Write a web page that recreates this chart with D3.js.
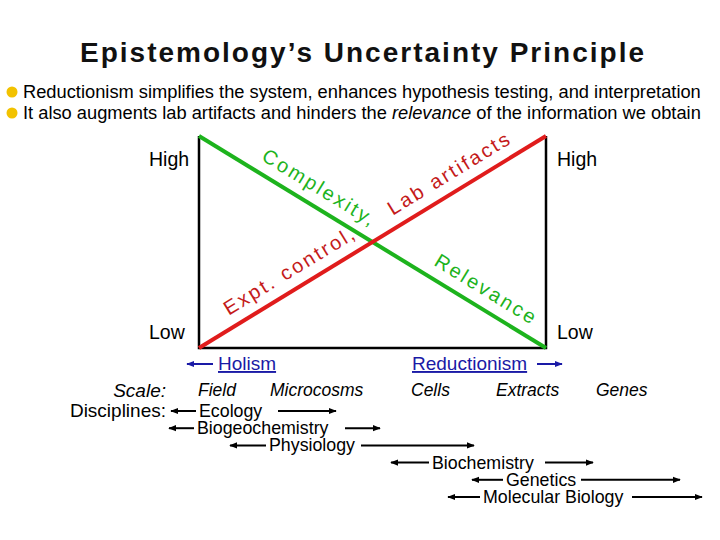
<!DOCTYPE html>
<html><head><meta charset="utf-8">
<script src="https://cdn.jsdelivr.net/npm/d3@7"></script>
<style>body{margin:0;background:#fff}text{font-family:Arial,"Liberation Sans",sans-serif}</style>
</head><body><svg id="c" width="720" height="540"></svg>
<script>
const bullets = [
  [{t:"Reductionism simplifies the system, enhances hypothesis testing, and interpretation"}],
  [{t:"It also augments lab artifacts and hinders the "},{t:"relevance",i:true},{t:" of the information we obtain"}]
];
const lines = [
  {name:"green", color:"#1db31d", from:[0,1], to:[1,0], labels:[{t:"Complexity,",p:0.32,off:-12},{t:"Relevance",p:0.8,off:-12}]},
  {name:"red", color:"#e01c1c", from:[0,0], to:[1,1], labels:[{t:"Expt. control,",p:0.29,off:-12},{t:"Lab artifacts",p:0.75,off:-12}]}
];
const scaleLabels = [{t:"Field",x:198},{t:"Microcosms",x:270},{t:"Cells",x:411},{t:"Extracts",x:496},{t:"Genes",x:596}];
const disciplines = [
  {t:"Ecology", a0:171, tx:199, a1:[278,336]},
  {t:"Biogeochemistry", a0:169, tx:197, a1:[345,380]},
  {t:"Physiology", a0:230, tx:269, a1:[361,474]},
  {t:"Biochemistry", a0:391, tx:432, a1:[545,593]},
  {t:"Genetics", a0:472, tx:506, a1:[581,680]},
  {t:"Molecular Biology", a0:448, tx:483, a1:[632,702]}
];
const svg = d3.select("#c");
const defs = svg.append("defs");
function marker(id,color){
  defs.append("marker").attr("id",id).attr("viewBox","0 0 10 10").attr("refX",9).attr("refY",5)
   .attr("markerWidth",4).attr("markerHeight",4).attr("orient","auto-start-reverse")
   .append("path").attr("d","M0,1L10,5L0,9z").attr("fill",color);
}
marker("ab","#000"); marker("ablue","#1a1aa6");

svg.append("text").attr("x",362).attr("y",62).attr("text-anchor","middle").attr("font-size",28).attr("font-weight","bold").attr("fill","#111").attr("textLength",564).text("Epistemology’s Uncertainty Principle");
bullets.forEach((b,i)=>{
  const y=98+i*21;
  svg.append("circle").attr("cx",12).attr("cy",y-6).attr("r",5.5).attr("fill","#f2c200");
  const t=svg.append("text").attr("x",23).attr("y",y).attr("font-size",18.3);
  b.forEach(s=>t.append("tspan").attr("font-style",s.i?"italic":null).text(s.t));
});

const x = d3.scaleLinear().domain([0,1]).range([199,546]);
const y = d3.scaleLinear().domain([0,1]).range([348,136]);
const g = svg.append("g");
g.append("path").attr("d",`M${x(0)},${y(1)}V${y(0)}H${x(1)}V${y(1)}`).attr("fill","none").attr("stroke","#000").attr("stroke-width",2.5);
lines.forEach(l=>{
  g.append("line").attr("x1",x(l.from[0])).attr("y1",y(l.from[1])).attr("x2",x(l.to[0])).attr("y2",y(l.to[1]))
   .attr("stroke",l.color).attr("stroke-width",4);
  const dx=x(l.to[0])-x(l.from[0]), dy=y(l.to[1])-y(l.from[1]);
  const ang=Math.atan2(dy,dx)*180/Math.PI;
  l.labels.forEach(lb=>{
    const px=x(l.from[0])+dx*lb.p, py=y(l.from[1])+dy*lb.p;
    g.append("text").attr("transform",`translate(${px},${py}) rotate(${ang})`).attr("y",lb.off)
     .attr("text-anchor","middle").attr("font-size",20).attr("letter-spacing",2.5)
     .attr("fill",l.color==="#e01c1c"?"#c41a1a":"#1db31d").text(lb.t);
  });
});
[["High",149,166],["High",557,166],["Low",149,339],["Low",557,339]].forEach(d=>
  svg.append("text").attr("x",d[1]).attr("y",d[2]).attr("font-size",19.5).text(d[0]));

svg.append("line").attr("x1",213).attr("x2",187).attr("y1",364).attr("y2",364).attr("stroke","#1a1aa6").attr("stroke-width",2).attr("marker-end","url(#ablue)");
svg.append("text").attr("x",218).attr("y",370).attr("font-size",19).attr("fill","#1a1aa6").attr("text-decoration","underline").text("Holism");
svg.append("text").attr("x",412).attr("y",370).attr("font-size",19).attr("fill","#1a1aa6").attr("text-decoration","underline").text("Reductionism");
svg.append("line").attr("x1",537).attr("x2",562).attr("y1",364).attr("y2",364).attr("stroke","#1a1aa6").attr("stroke-width",2).attr("marker-end","url(#ablue)");

svg.append("text").attr("x",166).attr("y",397).attr("text-anchor","end").attr("font-size",19).attr("font-style","italic").text("Scale:");
svg.append("text").attr("x",166).attr("y",417).attr("text-anchor","end").attr("font-size",19).text("Disciplines:");
scaleLabels.forEach(s=>svg.append("text").attr("x",s.x).attr("y",396).attr("font-size",17.5).attr("font-style","italic").text(s.t));
disciplines.forEach((d,i)=>{
  const yy=411+i*17.2;
  svg.append("line").attr("x1",d.tx-3).attr("x2",d.a0).attr("y1",yy).attr("y2",yy).attr("stroke","#000").attr("stroke-width",2).attr("marker-end","url(#ab)");
  svg.append("text").attr("x",d.tx).attr("y",yy+6).attr("font-size",17.8).text(d.t);
  svg.append("line").attr("x1",d.a1[0]).attr("x2",d.a1[1]).attr("y1",yy).attr("y2",yy).attr("stroke","#000").attr("stroke-width",2).attr("marker-end","url(#ab)");
});
</script></body></html>
